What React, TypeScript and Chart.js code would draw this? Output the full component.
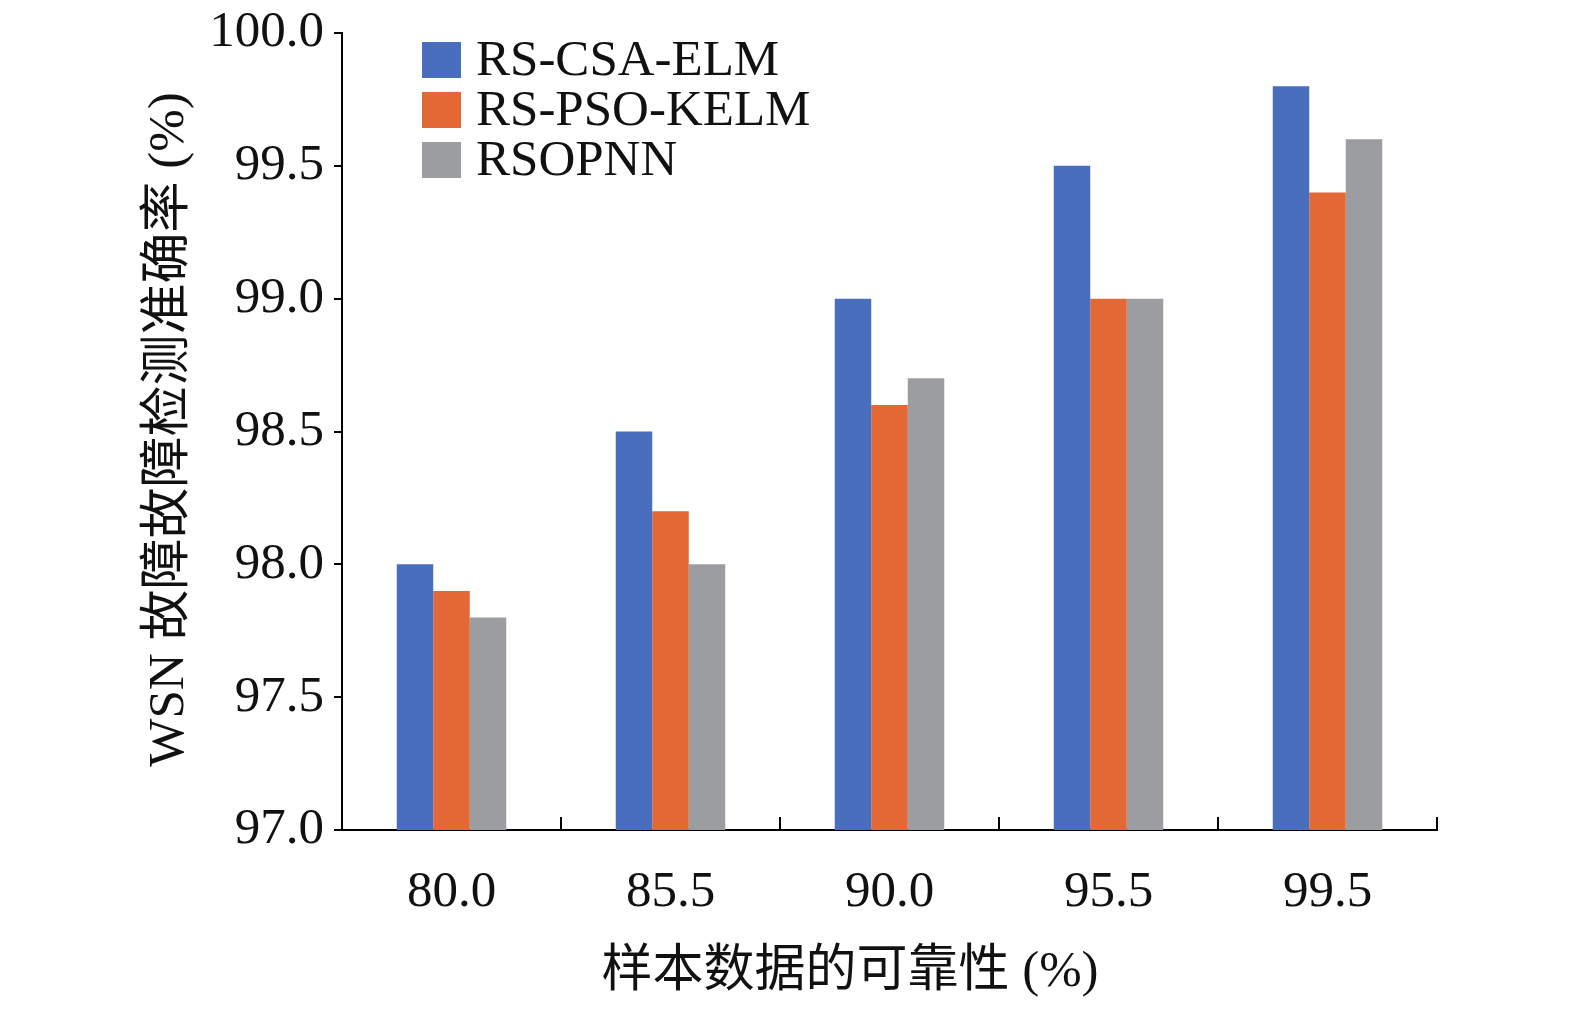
import React, { useEffect, useRef } from "react";
import { Chart, registerables } from "chart.js";

Chart.register(...registerables);

const categories = ["80.0", "85.5", "90.0", "95.5", "99.5"];
const seriesNames = ["RS-CSA-ELM", "RS-PSO-KELM", "RSOPNN"];
const rsCsaElm = [98.0, 98.5, 99.0, 99.5, 99.8];
const rsPsoKelm = [97.9, 98.2, 98.6, 99.0, 99.4];
const rsopnn = [97.8, 98.0, 98.7, 99.0, 99.6];
const seriesColors = ["#4a6ebe", "#e36835", "#9c9da1"];
const yTitle = "WSN 故障故障检测准确率 (%)";
const xTitle = "样本数据的可靠性 (%)";

const FONT = '"Liberation Serif", "Times New Roman", "Noto Sans CJK SC", serif';

const decorPlugin = {
  id: "decor",
  afterDraw(chart: any) {
    const { ctx, chartArea, scales } = chart;
    const x = scales.x;
    ctx.save();
    ctx.strokeStyle = "#000";
    ctx.lineWidth = 2;
    const n = categories.length;
    const step = x.getPixelForValue(1) - x.getPixelForValue(0);
    for (let i = 0; i < n; i++) {
      const px = x.getPixelForValue(i) + step / 2;
      ctx.beginPath();
      ctx.moveTo(px, chartArea.bottom);
      ctx.lineTo(px, chartArea.bottom - 13);
      ctx.stroke();
    }
    ctx.font = `51px ${FONT}`;
    ctx.textBaseline = "middle";
    ctx.textAlign = "left";
    seriesNames.forEach((name, i) => {
      const lx = chartArea.left + 80;
      const ly = chartArea.top + 9 + i * 50;
      ctx.fillStyle = seriesColors[i];
      ctx.fillRect(lx, ly, 39, 36);
      ctx.fillStyle = "#111";
      ctx.fillText(name, lx + 54, ly + 20);
    });
    ctx.font = `51px ${FONT}`;
    ctx.fillStyle = "#111";
    ctx.textAlign = "center";
    ctx.textBaseline = "middle";
    ctx.fillText(xTitle, chartArea.left + 508, chartArea.bottom + 143);
    ctx.translate(chartArea.left - 172, (chartArea.top + chartArea.bottom) / 2 - 2);
    ctx.rotate(-Math.PI / 2);
    ctx.fillText(yTitle, 0, 0);
    ctx.restore();
  },
};

export default function App() {
  const ref = useRef<HTMLCanvasElement>(null);
  useEffect(() => {
    if (!ref.current) return;
    const chart = new Chart(ref.current, {
      type: "bar",
      data: {
        labels: categories,
        datasets: [
          { label: seriesNames[0], data: rsCsaElm, backgroundColor: seriesColors[0] },
          { label: seriesNames[1], data: rsPsoKelm, backgroundColor: seriesColors[1] },
          { label: seriesNames[2], data: rsopnn, backgroundColor: seriesColors[2] },
        ],
      },
      options: {
        responsive: false,
        animation: false,
        devicePixelRatio: 1,
        layout: { padding: { left: 0, top: 33, right: 138, bottom: 0 } },
        datasets: { bar: { categoryPercentage: 0.5, barPercentage: 1.0 } },
        plugins: { legend: { display: false }, tooltip: { enabled: false } },
        scales: {
          x: {
            afterFit: (s: any) => { s.height = 183; s.paddingLeft = 0; s.paddingRight = 0; },
            grid: { display: false, drawTicks: false },
            border: { display: true, color: "#000", width: 2 },
            ticks: { color: "#111", font: { family: FONT, size: 51 }, padding: 32 },
          },
          y: {
            min: 97,
            max: 100,
            afterFit: (s: any) => { s.width = 342; s.paddingTop = 0; s.paddingBottom = 0; },
            grid: { drawOnChartArea: false, drawTicks: true, tickLength: 8, color: "#000", lineWidth: 2 },
            border: { display: true, color: "#000", width: 2 },
            ticks: {
              stepSize: 0.5,
              color: "#111",
              padding: 10,
              font: { family: FONT, size: 51 },
              callback: (v: any) => Number(v).toFixed(1),
            },
          },
        },
      },
      plugins: [decorPlugin],
    });
    return () => chart.destroy();
  }, []);
  return (
    <div style={{ position: "fixed", left: 0, top: 0, width: 1575, height: 1013, background: "#fff" }}>
      <canvas ref={ref} width={1575} height={1013} style={{ display: "block" }} />
    </div>
  );
}
